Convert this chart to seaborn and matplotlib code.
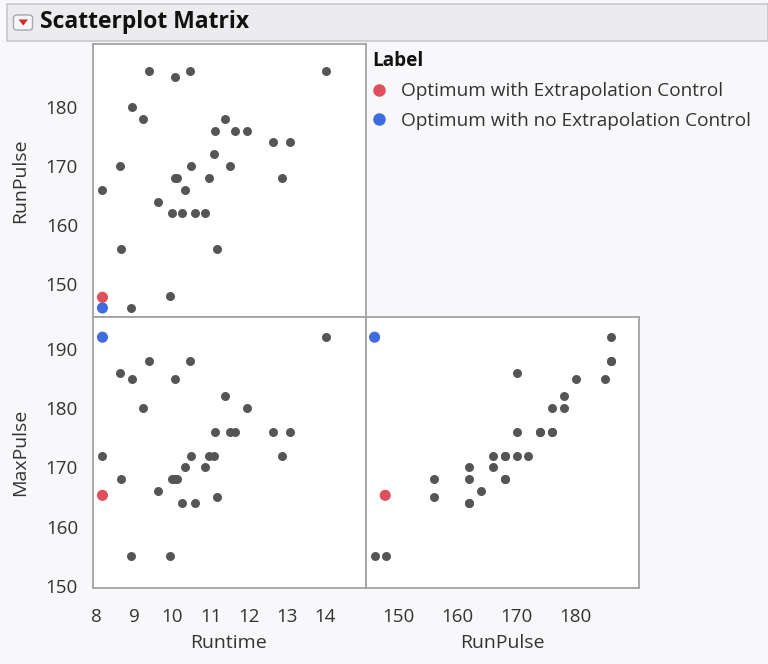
import matplotlib
matplotlib.use("Agg")
import matplotlib.pyplot as plt
from matplotlib.patches import Rectangle, FancyBboxPatch, Polygon
from matplotlib.lines import Line2D
from matplotlib.ticker import FixedLocator, FixedFormatter
import seaborn as sns
import pandas as pd

# Fitness study: 31 runners
runtime = [8.17, 8.63, 8.65, 8.92, 8.95, 9.22, 9.40, 9.63, 9.93, 10.00, 10.07,
           10.08, 10.13, 10.25, 10.33, 10.47, 10.50, 10.60, 10.85, 10.95, 11.08,
           11.12, 11.17, 11.37, 11.50, 11.63, 11.95, 12.63, 12.88, 13.08, 14.03]
run_pulse = [166, 170, 156, 146, 180, 178, 186, 164, 148, 162, 185,
             168, 168, 162, 166, 186, 170, 162, 162, 168, 172,
             176, 156, 178, 170, 176, 176, 174, 168, 174, 186]
max_pulse = [172, 186, 168, 155, 185, 180, 188, 166, 155, 168, 185,
             168, 168, 164, 170, 188, 172, 164, 170, 172, 172,
             176, 165, 182, 176, 176, 180, 176, 172, 176, 192]

# Two optimum settings found by the profiler
opt_label = ["Optimum with Extrapolation Control",
             "Optimum with no Extrapolation Control"]
opt_runtime = [8.17, 8.17]
opt_run_pulse = [147.8, 146.0]
opt_max_pulse = [165.3, 192.0]

label_colors = ["#e0505c", "#3f6ae0"]
point_gray = "#555555"

obs = pd.DataFrame({"Runtime": runtime, "RunPulse": run_pulse, "MaxPulse": max_pulse})
opt = pd.DataFrame({"Label": opt_label, "Runtime": opt_runtime,
                    "RunPulse": opt_run_pulse, "MaxPulse": opt_max_pulse})

sns.set_theme(style="white")
plt.rcParams["font.family"] = ["Open Sans", "DejaVu Sans"]

W, H = 768, 664
fig = plt.figure(figsize=(W / 100, H / 100), dpi=100, facecolor="#f8f7f9")


def frac_box(x0, y0, x1, y1):
    return [x0 / W, 1 - y1 / H, (x1 - x0) / W, (y1 - y0) / H]


# header strip
fig.patches.append(Rectangle((7 / W, 1 - 41 / H), 1 - 7 / W, 37 / H,
                             transform=fig.transFigure, facecolor="#ecebee",
                             edgecolor="#c8c7cc", lw=1.2, zorder=0))
fig.patches.append(FancyBboxPatch((13.5 / W, 1 - 30 / H), 19 / W, 15 / H,
                                  boxstyle="round,pad=0,rounding_size=0.004",
                                  transform=fig.transFigure, facecolor="#f7f6f8",
                                  edgecolor="#a9a8ad", lw=1.0, zorder=1))
fig.patches.append(Polygon([(18.5 / W, 1 - 19.5 / H), (28 / W, 1 - 19.5 / H),
                            (23.2 / W, 1 - 25.5 / H)], closed=True,
                           transform=fig.transFigure, facecolor="#d8262a",
                           edgecolor="none", zorder=2))
fig.text(40.5 / W, 1 - 22.5 / H, "Scatterplot Matrix", fontsize=16.5, fontweight="bold",
         color="#111111", ha="left", va="center")

L, M, R = 93.3, 366.0, 638.7
T, Mid, B = 44.0, 316.5, 588.3
ax_tl = fig.add_axes(frac_box(L, T, M, Mid))
ax_bl = fig.add_axes(frac_box(L, Mid, M, B))
ax_br = fig.add_axes(frac_box(M, Mid, R, B))

runtime_lim = (7.93, 15.07)
runpulse_lim = (144.55, 190.65)
maxpulse_lim = (149.6, 195.5)

panels = [(ax_tl, "Runtime", "RunPulse", runtime_lim, runpulse_lim),
          (ax_bl, "Runtime", "MaxPulse", runtime_lim, maxpulse_lim),
          (ax_br, "RunPulse", "MaxPulse", runpulse_lim, maxpulse_lim)]

for ax, xv, yv, xl, yl in panels:
    ax.set_facecolor("white")
    sns.scatterplot(data=obs, x=xv, y=yv, ax=ax, color=point_gray, s=42,
                    linewidth=0, legend=False, zorder=3)
    sns.scatterplot(data=opt, x=xv, y=yv, hue="Label", hue_order=opt_label,
                    palette=label_colors, ax=ax, s=64, linewidth=0,
                    legend=False, zorder=4)
    ax.set_xlim(*xl)
    ax.set_ylim(*yl)
    ax.set_xlabel("")
    ax.set_ylabel("")
    for sp in ax.spines.values():
        sp.set_color("#a3a3a3")
        sp.set_linewidth(1.3)
    ax.tick_params(which="both", direction="out", color="#9a9a9a", width=1.0,
                   labelsize=13.5, labelcolor="#333333")
    ax.tick_params(which="major", length=7)
    ax.tick_params(which="minor", length=3.6)
    ax.set_xticks([])
    ax.set_yticks([])

tick_sets = {
    "Runtime": ([8, 9, 10, 11, 12, 13, 14, 15],
                ["8", "9", "10", "11", "12", "13", "14", ""], []),
    "RunPulse": ([150, 160, 170, 180, 190],
                 ["150", "160", "170", "180", ""], [145, 155, 165, 175, 185]),
    "MaxPulse": ([150, 160, 170, 180, 190],
                 ["150", "160", "170", "180", "190"], [155, 165, 175, 185, 195]),
}


def apply_ticks(axis, name):
    major, labels, minor = tick_sets[name]
    axis.set_major_locator(FixedLocator(major))
    axis.set_major_formatter(FixedFormatter(labels))
    axis.set_minor_locator(FixedLocator(minor))


apply_ticks(ax_tl.yaxis, "RunPulse")
apply_ticks(ax_bl.yaxis, "MaxPulse")
apply_ticks(ax_bl.xaxis, "Runtime")
apply_ticks(ax_br.xaxis, "RunPulse")
for ax in (ax_tl, ax_bl, ax_br):
    ax.tick_params(axis="y", pad=4)
    ax.tick_params(axis="x", pad=7)

# axis titles
lab_kw = dict(fontsize=14, color="#333333", ha="center", va="center")
fig.text(20 / W, 1 - 181 / H, "RunPulse", rotation=90, **lab_kw)
fig.text(20 / W, 1 - 452 / H, "MaxPulse", rotation=90, **lab_kw)
fig.text(228 / W, 1 - 643 / H, "Runtime", **lab_kw)
fig.text(502.3 / W, 1 - 643 / H, "RunPulse", **lab_kw)

# legend
handles = [Line2D([], [], marker="o", linestyle="none", markersize=9,
                  markerfacecolor=c, markeredgewidth=0) for c in label_colors]
leg = fig.legend(handles, opt_label, loc="upper left",
                 bbox_to_anchor=(372 / W, 1 - 51 / H), frameon=False,
                 title="Label", alignment="left", fontsize=13.7,
                 title_fontproperties={"weight": "bold", "size": 13.7},
                 handletextpad=0.8, handlelength=0.7, labelspacing=0.6,
                 borderpad=0, borderaxespad=0)
for t in leg.get_texts():
    t.set_color("#333333")
leg.get_title().set_color("#111111")

fig.savefig("out.png", dpi=100, facecolor=fig.get_facecolor())
